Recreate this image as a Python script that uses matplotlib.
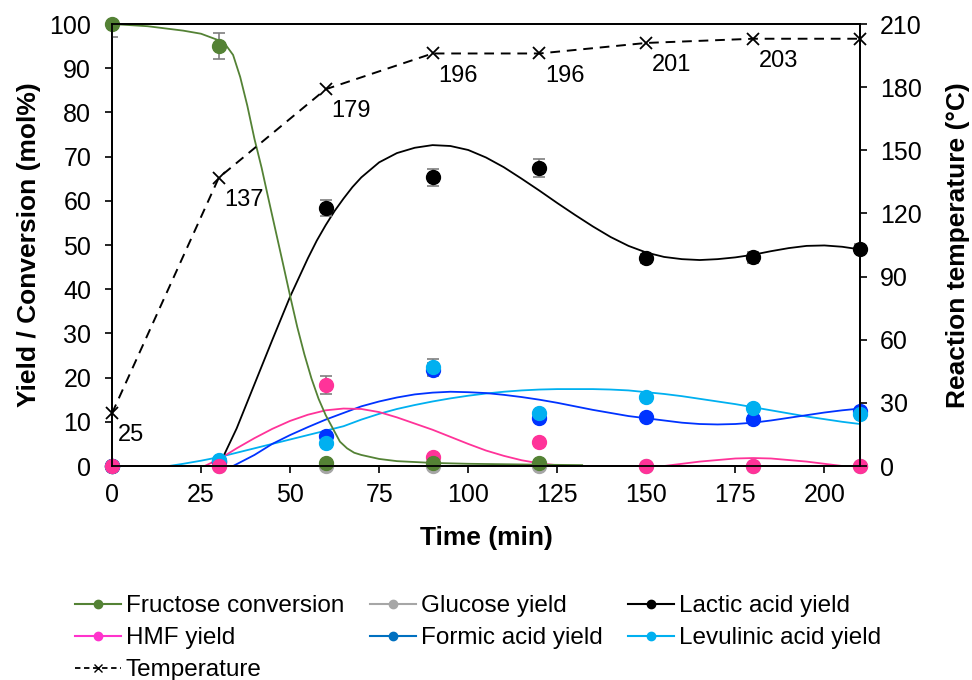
import matplotlib.pyplot as plt
from matplotlib.lines import Line2D

plt.rcParams['font.family'] = ['Liberation Sans', 'DejaVu Sans']
plt.rcParams['font.size'] = 18

# Measured points
times = [0, 30, 60, 90, 120, 150, 180, 210]
fructose_times = [0, 30, 60, 90, 120]
fructose = [100, 95, 0.6, 0.6, 0.6]
fructose_err = [3, 3, 0, 0, 0]
glucose = [0, 0, 0, 0, 0, 0, 0, 0]
lactic = [0, 1, 58.4, 65.3, 67.4, 47.0, 47.2, 49.2]
lactic_err = [0, 0, 1.8, 1.9, 2.0, 1.0, 1.2, 1.0]
hmf = [0, 0, 18.3, 2.1, 5.5, 0, 0, 0]
hmf_err = [0, 0, 2.0, 0, 0, 0, 0, 0]
formic = [0, 1.2, 6.7, 21.8, 10.9, 11.2, 10.6, 12.5]
formic_err = [0, 0, 0, 1.5, 0, 0, 0, 0]
levulinic = [0, 1.3, 5.2, 22.3, 11.9, 15.7, 13.2, 11.8]
levulinic_err = [0, 0, 0, 1.8, 0, 0, 0, 0]
temperature = [25, 137, 179, 196, 196, 201, 203, 203]
temp_labels = ['25', '137', '179', '196', '196', '201', '203']

# Trend curves
fit_fru_t = [0, 10, 20, 25, 30, 32, 34, 36, 38, 40, 42, 44, 46, 48, 50, 52, 54, 56, 58,
             60, 62, 64, 66, 68, 70, 75, 80, 90, 100, 110, 120, 132]
fit_fru_v = [100, 99.5, 98.5, 97.8, 96.3, 95.2, 93, 88, 81.5, 74, 67.5, 60.2, 53, 45.8,
             38.5, 31.5, 25.3, 19.8, 15.2, 11.5, 8.5, 5.5, 4, 3, 2.5, 1.6, 1.1, 0.7, 0.5,
             0.4, 0.3, 0.2]
fit_lac_t = [30, 35, 40, 45, 50, 55, 57.5, 60, 62.5, 65, 67.5, 70, 75, 80, 85, 90, 95, 100,
             105, 110, 115, 120, 125, 130, 135, 140, 145, 150, 155, 160, 165, 170, 175,
             180, 185, 190, 195, 200, 205, 210]
fit_lac_v = [0, 8.5, 18.5, 28.5, 38.3, 47, 51, 54.5, 57.7, 60.5, 63.1, 65.3, 68.7, 70.8,
             72, 72.6, 72.4, 71.5, 69.8, 67.6, 65, 62.3, 59.5, 56.8, 54.2, 51.8, 49.8,
             48.3, 47.3, 46.8, 46.6, 46.8, 47.2, 47.8, 48.6, 49.3, 49.8, 49.9, 49.6, 49]
fit_hmf_t = [26, 30, 35, 40, 45, 50, 55, 60, 65, 70, 75, 80, 85, 90, 95, 100, 105, 110,
             115, 120, 127, 140, 155, 165, 175, 180, 185, 195, 205]
fit_hmf_v = [0, 1.5, 4, 6.3, 8.4, 10.2, 11.6, 12.6, 13, 12.9, 12.2, 11, 9.6, 8.2, 6.6, 5,
             3.5, 2.3, 1.3, 0.6, 0, 0, 0, 1.0, 1.7, 1.8, 1.7, 1.0, 0]
fit_for_t = [34, 40, 45, 50, 55, 60, 65, 70, 75, 80, 85, 90, 95, 100, 105, 110, 115, 120,
             125, 130, 135, 140, 145, 150, 155, 160, 165, 170, 175, 180, 185, 190, 195,
             200, 205, 210]
fit_for_v = [0, 2.5, 5, 7, 8.8, 10.5, 12, 13.5, 14.6, 15.5, 16.2, 16.6, 16.8, 16.7, 16.5,
             16.1, 15.6, 15, 14.3, 13.5, 12.7, 12, 11.3, 10.8, 10.3, 9.8, 9.5, 9.4, 9.5,
             9.8, 10.3, 10.9, 11.5, 12.1, 12.6, 13]
fit_lev_t = [16, 20, 25, 30, 35, 40, 45, 50, 55, 60, 65, 70, 75, 80, 85, 90, 95, 100, 105,
             110, 115, 120, 125, 130, 135, 140, 145, 150, 155, 160, 165, 170, 175, 180,
             185, 190, 195, 200, 205, 210]
fit_lev_v = [0, 0.5, 1.2, 2, 3, 4, 5, 6, 7, 8, 9, 10.5, 11.8, 12.9, 13.8, 14.6, 15.3, 15.9,
             16.4, 16.8, 17.1, 17.3, 17.4, 17.4, 17.4, 17.3, 17.1, 16.7, 16.3, 15.8, 15.2,
             14.6, 14, 13.3, 12.6, 11.9, 11.2, 10.6, 10, 9.5]

c_fru = '#548235'
c_glu = '#A6A6A6'
c_lac = '#000000'
c_hmf = '#FF3399'
c_for = '#0033FF'
c_lev = '#00B0F0'
c_err = '#7F7F7F'

fig = plt.figure(figsize=(9.72, 6.8), dpi=100)
fig.subplots_adjust(left=0.1152, right=0.8848, top=0.9647, bottom=0.3147)
ax = fig.add_subplot(111)

# fitted curves
ax.plot(fit_lev_t, fit_lev_v, color=c_lev, lw=1.3, zorder=2)
ax.plot(fit_for_t, fit_for_v, color=c_for, lw=1.3, zorder=2)
ax.plot(fit_hmf_t, fit_hmf_v, color=c_hmf, lw=1.3, zorder=2)
ax.plot(fit_lac_t, fit_lac_v, color=c_lac, lw=1.3, zorder=2)
ax.plot(fit_fru_t, fit_fru_v, color=c_fru, lw=1.3, zorder=2)

# error bars
for x, y, e in [(times, lactic, lactic_err), (times, hmf, hmf_err),
                (times, formic, formic_err), (times, levulinic, levulinic_err),
                (fructose_times, fructose, fructose_err)]:
    ax.errorbar(x, y, yerr=e, fmt='none', ecolor=c_err, elinewidth=1.2,
                capsize=4, capthick=1.2, zorder=3)

# markers
ms = 10
ax.plot(times, glucose, 'o', color=c_glu, ms=ms, zorder=4, clip_on=False)
ax.plot(times, lactic, 'o', color=c_lac, ms=ms, zorder=4, clip_on=False)
ax.plot(times, formic, 'o', color=c_for, ms=ms, zorder=4, clip_on=False)
ax.plot(times, levulinic, 'o', color=c_lev, ms=ms, zorder=4, clip_on=False)
ax.plot(times, hmf, 'o', color=c_hmf, ms=ms, zorder=4, clip_on=False)
ax.plot(fructose_times, fructose, 'o', color=c_fru, ms=ms, zorder=4, clip_on=False)

ax.set_xlim(0, 210)
ax.set_ylim(0, 100)
ax.set_xticks(range(0, 201, 25))
ax.set_yticks(range(0, 101, 10))
ax.tick_params(direction='out', length=5, width=1.2, colors='black')
ax.tick_params(axis='x', pad=7)
ax.tick_params(axis='y', pad=10)
for s in ax.spines.values():
    s.set_linewidth(1.3)
ax.set_xlabel('Time (min)', fontweight='bold', fontsize=19, labelpad=14)
ax.set_ylabel('Yield / Conversion (mol%)', fontweight='bold', fontsize=19, labelpad=6)

# temperature on right axis
ax2 = ax.twinx()
ax2.plot(times, temperature, color='black', lw=1.4, ls=(0, (5, 3.5)),
         marker='x', ms=8, mew=1.3, clip_on=False)
for t, v, lab in zip(times, temperature, temp_labels):
    ax2.annotate(lab, (t, v), xytext=(4, -8), textcoords='offset points',
                 ha='left', va='top', fontsize=17)
ax2.set_ylim(0, 210)
ax2.set_yticks(range(0, 211, 30))
ax2.tick_params(direction='out', length=5, width=1.2, pad=9.5)
ax2.set_ylabel('Reaction temperature (°C)', fontweight='bold', fontsize=19, labelpad=17)
for s in ax2.spines.values():
    s.set_linewidth(1.3)

# legend
handles = [
    Line2D([], [], color='#548235', marker='o', ms=6, lw=1.5, label='Fructose conversion'),
    Line2D([], [], color='#FF33CC', marker='o', ms=6, lw=1.5, label='HMF yield'),
    Line2D([], [], color='black', marker='x', ms=6, lw=1.3, ls=(0, (3, 2)), label='Temperature'),
    Line2D([], [], color=c_glu, marker='o', ms=6, lw=1.5, label='Glucose yield'),
    Line2D([], [], color='#0070C0', marker='o', ms=6, lw=1.5, label='Formic acid yield'),
    Line2D([], [], color='black', marker='o', ms=6, lw=1.5, label='Lactic acid yield'),
    Line2D([], [], color=c_lev, marker='o', ms=6, lw=1.5, label='Levulinic acid yield'),
]
fig.legend(handles=handles, loc='upper left', bbox_to_anchor=(0.077, 0.125), ncol=3,
           frameon=False, fontsize=17.5, handlelength=1.9, handletextpad=0.2,
           columnspacing=1.05, labelspacing=0.42, borderpad=0, borderaxespad=0)

plt.savefig('out.png', dpi=100)
